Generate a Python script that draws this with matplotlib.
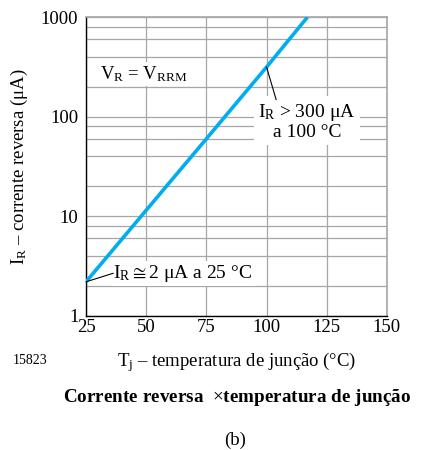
import numpy as np
import matplotlib
matplotlib.use("Agg")
import matplotlib.pyplot as plt
from matplotlib.ticker import FixedLocator, NullFormatter

plt.rcParams['font.family'] = ['Liberation Serif', 'DejaVu Serif']
plt.rcParams['mathtext.fontset'] = 'custom'
plt.rcParams['mathtext.rm'] = 'Liberation Serif'
plt.rcParams['mathtext.it'] = 'Liberation Serif'

# ===============================
# Data
# ===============================
temp_c = [25, 50, 75, 100, 117]
i_r_ua = [2.2, 11.5, 60, 315, 1000]

x_ticks = [25, 50, 75, 100, 125, 150]
y_ticks = [1, 10, 100, 1000]
y_minor = [m * d for d in (1, 10, 100) for m in (2, 4, 6, 8)]

FS = 13.5
LINE_COLOR = '#00aeef'
GRID_COLOR = '#a6a6a6'

fig = plt.figure(figsize=(4.25, 4.5), dpi=100)
ax = fig.add_axes([0.2024, 0.298, 0.708, 0.664])

ax.plot(temp_c, i_r_ua, color=LINE_COLOR, lw=2.6, solid_capstyle='butt', zorder=3)

ax.set_yscale('log')
ax.set_xlim(25, 150)
ax.set_ylim(1, 1000)
ax.xaxis.set_major_locator(FixedLocator(x_ticks))
ax.yaxis.set_major_locator(FixedLocator(y_ticks))
ax.yaxis.set_minor_locator(FixedLocator(y_minor))
ax.yaxis.set_minor_formatter(NullFormatter())
ax.set_xticklabels([str(v) for v in x_ticks])
ax.set_yticklabels([str(v) for v in y_ticks])
ax.tick_params(which='both', length=0, labelsize=FS)
ax.tick_params(axis='y', pad=5.5)
ax.tick_params(axis='x', pad=2.5)

ax.grid(True, which='both', color=GRID_COLOR, lw=0.9, zorder=0)
ax.set_axisbelow(True)
for side in ('top', 'right'):
    ax.spines[side].set_color(GRID_COLOR)
    ax.spines[side].set_linewidth(1.2)
for side in ('left', 'bottom'):
    ax.spines[side].set_color('black')
    ax.spines[side].set_linewidth(1.0)

ax.set_ylabel(r'I$_{\mathrm{R}}$ – corrente reversa (μA)', fontsize=FS)
ax.yaxis.set_label_coords(-0.185, 0.5)
ax.set_xlabel(r'T$_{\mathrm{j}}$ – temperatura de junção (°C)', fontsize=FS)
ax.xaxis.set_label_coords(0.5, -0.115)

box = dict(facecolor='white', edgecolor='none', pad=1.5)

ax.text(31, 270, r'V$_{\mathrm{R}}$ = V$_{\mathrm{RRM}}$', fontsize=FS,
        ha='left', va='center', bbox=box, zorder=4)

ax.text(116.8, 89, 'I$_{\\mathrm{R}}$ > 300 μA\na 100 °C', fontsize=14,
        ha='center', va='center', multialignment='center',
        linespacing=1.05, bbox=dict(facecolor='white', edgecolor='none', pad=3),
        zorder=4)
ax.annotate('', xy=(100, 315), xytext=(104, 148),
            arrowprops=dict(arrowstyle='-', color='black', lw=0.8,
                            shrinkA=0, shrinkB=0), zorder=5)

ax.text(36.4, 2.68, r'I$_{\mathrm{R}}\cong$2 μA a 25 °C', fontsize=14,
        ha='left', va='center', bbox=box, zorder=4)
ax.annotate('', xy=(25, 2.2), xytext=(36.3, 2.68),
            arrowprops=dict(arrowstyle='-', color='black', lw=0.8,
                            shrinkA=0, shrinkB=0), zorder=5)

fig.text(30 / 425, 1 - 361 / 450, '15823', fontsize=10, ha='center', va='center')
fig.text(63 / 425, 1 - 397 / 450, r'Corrente reversa  $\times$temperatura de junção',
         fontsize=13.8, fontweight='bold', ha='left', va='center')
fig.text(235 / 425, 1 - 440 / 450, '(b)', fontsize=FS, ha='center', va='center')

fig.savefig('out.png', dpi=100)
